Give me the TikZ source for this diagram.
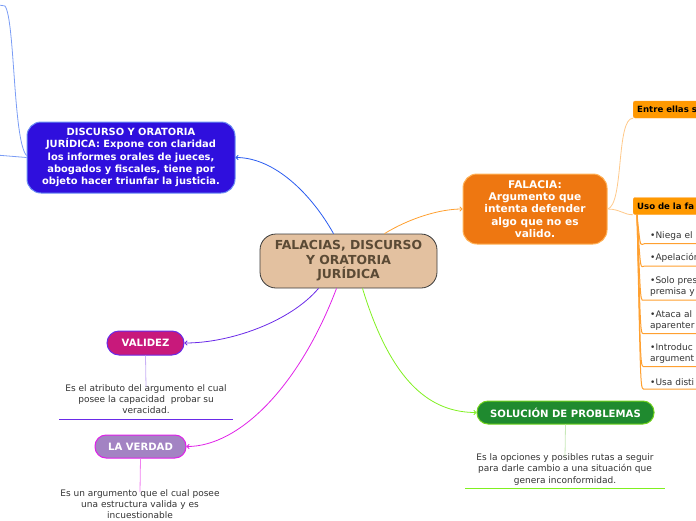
\documentclass[tikz,border=0pt]{standalone}
\usepackage{fontspec}
\setmainfont{DejaVu Sans}
\usetikzlibrary{arrows.meta,positioning}

\definecolor{ctrfill}{HTML}{E3C1A0}
\definecolor{ctrline}{HTML}{3A3A3A}
\definecolor{ctrtext}{HTML}{5B4A35}
\definecolor{discfill}{HTML}{2F0FDD}
\definecolor{discline}{HTML}{2A5CF0}
\definecolor{discsub}{HTML}{7A9CF5}
\definecolor{falfill}{HTML}{EE7711}
\definecolor{falline}{HTML}{FFA030}
\definecolor{falsub}{HTML}{FFC98A}
\definecolor{tabfill}{HTML}{FF9900}
\definecolor{valfill}{HTML}{C8197B}
\definecolor{valline}{HTML}{6A2AE8}
\definecolor{valstem}{HTML}{C8B0F5}
\definecolor{verfill}{HTML}{A383C3}
\definecolor{verline}{HTML}{E020E8}
\definecolor{verstem}{HTML}{F080F0}
\definecolor{solfill}{HTML}{1F8A2F}
\definecolor{solline}{HTML}{80F020}
\definecolor{solstem}{HTML}{C8E8B8}
\definecolor{notetext}{HTML}{333333}

\begin{document}
\begin{tikzpicture}[x=1pt,y=-1pt,
    every node/.style={align=center},
    topic/.style={draw, line width=1pt, text=white, inner sep=0pt,
      rounded corners=14pt, font=\bfseries\fontsize{9.9}{12.2}\selectfont},
    pill/.style={draw, line width=1pt, text=white, inner sep=0pt,
      rounded corners=11pt, minimum height=23pt, font=\bfseries\fontsize{10.1}{12}\selectfont},
    note/.style={text=notetext, inner sep=0pt, font=\fontsize{9}{11.2}\selectfont},
    tab/.style={fill=tabfill, draw=falline, rounded corners=2pt, minimum height=17pt,
      text width=90pt, align=left, inner xsep=4pt, anchor=west,
      font=\bfseries\fontsize{8.6}{9}\selectfont},
    item/.style={anchor=south west, text width=100pt, align=left, inner xsep=5pt,
      inner ysep=3pt, text=notetext, font=\fontsize{9}{11.4}\selectfont},
    link/.style={-{To[length=3pt,width=5pt]}, line width=0.8pt}]
  \useasboundingbox (0,0) rectangle (696,520);
  \clip (0,0) rectangle (696,520);

  % central topic
  \node[draw=ctrline, fill=ctrfill, line width=0.8pt, rounded corners=16pt, inner sep=0pt,
    minimum width=177pt, minimum height=54pt, text=ctrtext,
    font=\bfseries\fontsize{12.4}{14.5}\selectfont] (c_0) at (348.5,261)
    {FALACIAS, DISCURSO\\Y ORATORIA\\JURÍDICA};

  % main topics
  \node[topic, fill=discfill, draw=discline!70, minimum width=208pt, minimum height=71pt]
    (d_0) at (131,157.5) {DISCURSO Y ORATORIA\\JURÍDICA: Expone con claridad\\los informes orales de jueces,\\abogados y fiscales, tiene por\\objeto hacer triunfar la justicia.};
  \node[topic, fill=falfill, draw=falline!80, minimum width=144pt, minimum height=70pt,
    font=\bfseries\fontsize{10.6}{12.3}\selectfont]
    (f_0) at (535,209) {FALACIA:\\Argumento que\\intenta defender\\algo que no es\\valido.};
  \node[pill, fill=valfill, draw=valline, minimum width=77pt, rounded corners=12pt,
    minimum height=24pt] (v_0) at (145.5,343) {VALIDEZ};
  \node[pill, fill=verfill, draw=verline, minimum width=91pt] (t_0) at (140.5,446.5) {LA VERDAD};
  \node[pill, fill=solfill, draw=solline!80!black!60!solline, minimum width=177pt]
    (s_0) at (565.5,412.5) {SOLUCIÓN DE PROBLEMAS};

  % notes
  \node[note] (v_1) at (146,399) {Es el atributo del argumento el cual\\posee la capacidad\ \ probar su\\veracidad.};
  \node[note] (t_1) at (140,504) {Es un argumento que el cual posee\\una estructura valida y es\\incuestionable};
  \node[note] (s_1) at (565,469.5) {Es la opciones y posibles rutas a seguir\\para darle cambio a una situación que\\genera inconformidad.};

  % links from the center
  \draw[link, discline] ([xshift=-15pt]c_0.north) .. controls (312,195) and (275,157.5) .. (d_0.east);
  \draw[link, falline] ([xshift=36pt]c_0.north) .. controls (410,218) and (440,209) .. (f_0.west);
  \draw[link, valline] ([xshift=-30pt]c_0.south) .. controls (290,322) and (230,343) .. (v_0.east);
  \draw[link, verline] ([xshift=-12pt]c_0.south) .. controls (300,385) and (240,446.5) .. (t_0.east);
  \draw[link, solline] ([xshift=14pt]c_0.south) .. controls (392,385) and (432,412.5) .. (s_0.west);

  % stems and underlines
  \draw[valstem, line width=0.8pt] (v_0.south) -- ([yshift=-3pt]v_1.north);
  \draw[verstem, line width=0.8pt] (t_0.south) -- ([yshift=-3pt]t_1.north);
  \draw[solstem, line width=0.8pt] (s_0.south) -- ([yshift=-3pt]s_1.north);
  \draw[valline, line width=1.3pt] (59,419.5) -- (233,419.5);
  \draw[solline, line width=1.8pt] (465,488.5) -- (665,488.5);

  % branches leaving the picture on the left
  \coordinate (o_1) at (-4,155);
  \coordinate (o_2) at (-4,4.5);
  \draw[discsub, line width=0.8pt] (d_0.west) -- (o_1);
  \draw[discsub, line width=0.8pt] ([yshift=2pt]d_0.west) .. controls (13,140) and (15,20) .. (5,6) -- (o_2);

  % subtopics of FALACIA
  \node[tab] (e_1) at (633,109.5) {Entre ellas s};
  \node[tab] (u_1) at (633,206) {Uso de la fa};
  \draw[falsub, line width=0.8pt] (f_0.east) .. controls (624,205) and (616,118) .. (e_1.south west);
  \draw[falsub, line width=0.8pt] (f_0.east) .. controls (620,209) and (624,215) .. (u_1.south west);

  \node[item] (i_1) at (645,243.5) {•Niega el};
  \node[item] (i_2) at (645,266) {•Apelación};
  \node[item] (i_3) at (645,300) {•Solo pres\\premisa y};
  \node[item] (i_4) at (645,333.5) {•Ataca al\\aparenter};
  \node[item] (i_5) at (645,366.5) {•Introduc\\argument};
  \node[item] (i_6) at (645,389) {•Usa disti};
  \foreach \i in {1,...,6}
    \draw[falline, line width=1pt] ([xshift=4pt]u_1.south west) .. controls ([xshift=-4pt,yshift=-10pt]i_\i.south west) and ([xshift=-5pt]i_\i.south west) .. (i_\i.south west) -- (i_\i.south east);
\end{tikzpicture}
\end{document}
